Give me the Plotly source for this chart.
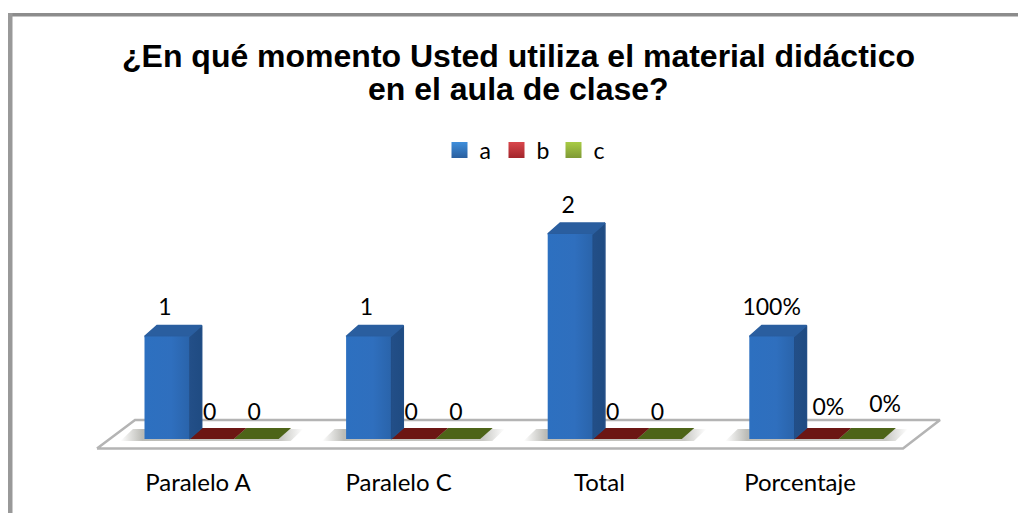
import plotly.graph_objects as go

categories = ["Paralelo A", "Paralelo C", "Total", "Porcentaje"]
series_a = [1, 1, 2, 1]
series_b = [0, 0, 0, 0]
series_c = [0, 0, 0, 0]
labels_a = ["1", "1", "2", "100%"]
labels_b = ["0", "0", "0", "0%"]
labels_c = ["0", "0", "0", "0%"]
title_lines = ["¿En qué momento Usted utiliza el material didáctico", "en el aula de clase?"]

W, H = 1018, 513
BOTTOM = 450            # pixel row where the plot area stops
CAT0_PX = 198           # pixel column of the first category label
PX_PER_CAT = 200.7
ZERO_PX = 439
PX_PER_UNIT = 102.5

# pixel sizes turned into axis units
BAR_W = 44.7 / PX_PER_CAT
GROUP_STEP = 201.6 / PX_PER_CAT   # the bars sit a touch wider apart than the labels
FIRST_BAR = (144.5 - CAT0_PX) / PX_PER_CAT
DX = 12.5 / PX_PER_CAT
DY = 11 / PX_PER_UNIT


def gx(px):
    return (px - CAT0_PX) / PX_PER_CAT


def gy(px):
    return (ZERO_PX - px) / PX_PER_UNIT


def poly(xs, ys, color=None, gradient=None, edge=None):
    style = dict(fillgradient=gradient) if gradient else dict(fillcolor=color)
    line = dict(color=edge, width=1.5) if edge else dict(width=0)
    return go.Scatter(
        x=xs + xs[:1], y=ys + ys[:1], mode="lines", fill="toself",
        line=line, showlegend=False, hoverinfo="skip", **style,
    )


fig = go.Figure()

# floor: a thin slab drawn as a parallelogram outline
floor_x = [gx(97), gx(903), gx(940), gx(135)]
floor_y = [gy(448.5), gy(448.5), gy(420), gy(420)]
fig.add_trace(go.Scatter(
    x=floor_x + floor_x[:1], y=floor_y + floor_y[:1], mode="lines", fill="toself",
    fillcolor="white", line=dict(color="#b4b4b4", width=2.5),
    showlegend=False, hoverinfo="skip",
))

shadow = dict(type="horizontal", colorscale=[
    [0, "rgba(120,120,110,0)"], [0.12, "rgba(120,120,110,0.5)"],
    [0.88, "rgba(120,120,110,0.4)"], [1, "rgba(120,120,110,0)"],
])
front_grad = dict(type="horizontal", colorscale=[[0, "#2d70c0"], [0.6, "#2f6fbe"], [1, "#2a64ab"]])
side_grad = dict(type="horizontal", colorscale=[[0, "#234f88"], [1, "#1f4b82"]])

for i in range(len(categories)):
    left = i * GROUP_STEP + FIRST_BAR
    # soft shadow under each group
    fig.add_trace(poly(
        [left - 0.12, left + 3 * BAR_W + 0.06, left + 3 * BAR_W + 0.06 + DX, left - 0.12 + DX],
        [gy(441), gy(441), gy(429), gy(429)],
        gradient=shadow,
    ))
    # zero-height bars only show their top face, c first so b sits over it
    for k, (vals, color) in enumerate([(series_c, "#4d6418"), (series_b, "#6c1613")]):
        x0 = left + (2 - k) * BAR_W
        v = vals[i]
        fig.add_trace(poly(
            [x0, x0 + BAR_W, x0 + BAR_W + DX, x0 + DX],
            [v, v, v + DY, v + DY],
            color=color,
        ))
    # series a: side, top, front
    v = series_a[i]
    x0, x1 = left, left + BAR_W
    fig.add_trace(poly([x1, x1 + DX, x1 + DX, x1], [0, DY, v + DY, v], gradient=side_grad, edge="#224e86"))
    fig.add_trace(poly([x0, x1, x1 + DX, x0 + DX], [v, v, v + DY, v + DY], color="#2a5e9f", edge="#2a5e9f"))
    fig.add_trace(poly([x0, x1, x1, x0], [0, 0, v, v], gradient=front_grad))

# value labels; some were dragged by hand in the original, hence the nudges (px right, px up)
nudge = {("a", 3): (2, 0), ("b", 3): (14, 5), ("c", 3): (26, 8)}
for name, vals, labels, slot, above in [
    ("a", series_a, labels_a, 0, 27),
    ("b", series_b, labels_b, 1, 25),
    ("c", series_c, labels_c, 2, 25),
]:
    xs, ys = [], []
    for i in range(len(categories)):
        dx, dy = nudge.get((name, i), (0, 0))
        xs.append(i * GROUP_STEP + FIRST_BAR + (slot + 0.5) * BAR_W + (dx - 2) / PX_PER_CAT)
        ys.append(vals[i] + (above + dy) / PX_PER_UNIT)
    fig.add_trace(go.Scatter(
        x=xs, y=ys, mode="text", text=labels, textposition="middle center",
        textfont=dict(family="Lato", size=23, color="black"),
        showlegend=False, hoverinfo="skip",
    ))

# legend keys
for name, color, light in [("a", "#2a5f9f", "#3f8fdc"), ("b", "#a3252b", "#d9474c"), ("c", "#7f9a35", "#a9cc45")]:
    fig.add_trace(go.Scatter(
        x=[None], y=[None], mode="markers", name=name,
        marker=dict(symbol="square", size=19, color=light, gradient=dict(type="vertical", color=color)),
    ))

fig.add_shape(type="rect", xref="paper", yref="paper",
              x0=8 / W, x1=1, y0=1 - 13 / BOTTOM, y1=1 - 16.5 / BOTTOM,
              fillcolor="#8c8c8c", line_width=0)
fig.add_shape(type="rect", xref="paper", yref="paper",
              x0=8 / W, x1=12.5 / W, y0=(BOTTOM - H) / BOTTOM, y1=1 - 13 / BOTTOM,
              fillcolor="#999999", line_width=0)

# two separate lines: the original leading is tighter than plotly's <br>
for line, y_px in zip(title_lines, [56, 89]):
    fig.add_annotation(
        text=line, xref="paper", yref="paper", x=518 / W, y=1 - y_px / BOTTOM,
        xanchor="center", yanchor="middle", showarrow=False,
        font=dict(family="Liberation Sans", size=32, color="black", weight="bold"),
    )

fig.update_layout(
    width=W, height=H,
    margin=dict(l=0, r=0, t=0, b=H - BOTTOM),
    paper_bgcolor="white", plot_bgcolor="white",
    font=dict(family="Lato", color="black"),
    legend=dict(
        orientation="h", x=525 / W, xanchor="center", y=1 - 150 / BOTTOM, yanchor="middle",
        font=dict(family="Lato", size=23), itemwidth=30, bgcolor="rgba(0,0,0,0)",
        entrywidth=12, entrywidthmode="pixels",
    ),
    xaxis=dict(
        range=[gx(0), gx(W)], tickvals=list(range(len(categories))), ticktext=categories,
        showgrid=False, zeroline=False, showline=False,
        ticks="outside", ticklen=11, tickcolor="rgba(0,0,0,0)",
        tickfont=dict(family="Lato", size=24, color="black"), fixedrange=True,
    ),
    yaxis=dict(range=[gy(BOTTOM), gy(0)], visible=False, fixedrange=True),
)

fig.write_html("out.html", config={"displayModeBar": False},
               post_script="document.body.style.margin='0';")
